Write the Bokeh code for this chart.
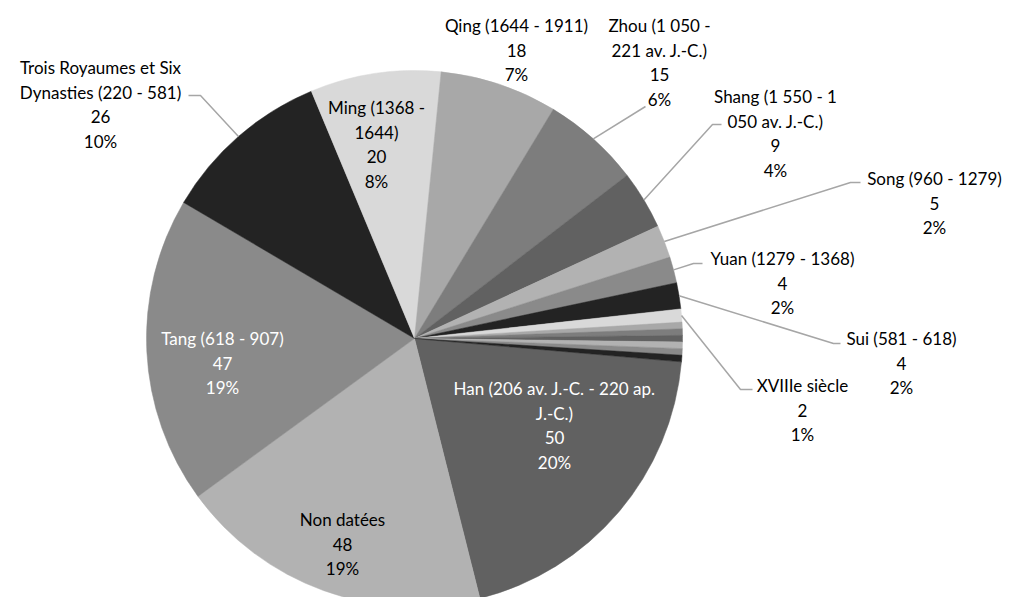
import math
from bokeh.plotting import figure
from bokeh.models import Range1d, ColumnDataSource
from bokeh.embed import file_html
from bokeh.resources import INLINE
from bokeh.core.properties import value

# ---------------- data ----------------
categories = [
    "Han (206 av. J.-C. - 220 ap.\nJ.-C.)",
    "Non datées",
    "Tang (618 - 907)",
    "Trois Royaumes et Six\nDynasties (220 - 581)",
    "Ming (1368 -\n1644)",
    "Qing (1644 - 1911)",
    "Zhou (1 050 -\n221 av. J.-C.)",
    "Shang (1 550 - 1\n050 av. J.-C.)",
    "Song (960 - 1279)",
    "Yuan (1279 - 1368)",
    "Sui (581 - 618)",
    "XVIIIe siècle",
    "Autre 1", "Autre 2", "Autre 3", "Autre 4", "Autre 5", "Autre 6",
]
counts = [50, 48, 47, 26, 20, 18, 15, 9, 5, 4, 4, 2, 1, 1, 1, 1, 1, 1]

# ---------------- style / layout ----------------
shades = ["#616161", "#b2b2b2", "#8a8a8a", "#232323", "#d9d9d9", "#a8a8a8", "#7d7d7d"]
CX, CY, R = 414, 338, 268          # pie centre / radius (page pixels)
START = 95                          # first slice angle, clockwise from 12 o'clock
FONT = "Lato"
FS = "17px"
LINE_H = 24.5
LEADER = "#a6a6a6"

# label: index -> (centre x, first line y, text colour, leader path points after slice edge)
label_layout = {
    0: (554, 388, "white", None),
    1: (342, 519, "black", None),
    2: (222, 338, "white", None),
    3: (100, 67, "black", [(200, 95), (188, 95)]),
    4: (376, 107, "black", None),
    5: (516, 25, "black", None),
    6: (659, 25, "black", [(645, 106)]),
    7: (775, 96, "black", [(712, 124), (721, 124)]),
    8: (934, 178, "black", [(850, 182), (860, 182)]),
    9: (782, 258, "black", [(693, 263), (702, 263)]),
    10: (901, 338, "black", [(833, 343), (840, 343)]),
    11: (802, 385, "black", [(740, 389), (752, 389)]),
}

W, H = 1012, 597
p = figure(width=W, height=H, x_range=Range1d(0, W), y_range=Range1d(-H, 0),
           output_backend="svg", toolbar_location=None, x_axis_type=None, y_axis_type=None,
           min_border=0, outline_line_color=None)
p.background_fill_color = "white"
p.border_fill_color = "white"

total = sum(counts)
starts, ends, colors, mids = [], [], [], []
cum = 0
for i, c in enumerate(counts):
    a1 = START + cum / total * 360
    a2 = START + (cum + c) / total * 360
    starts.append(math.radians(90 - a1))
    ends.append(math.radians(90 - a2))
    mids.append((a1 + a2) / 2)
    colors.append(shades[i % len(shades)])
    cum += c

src = ColumnDataSource(dict(start=starts, end=ends, color=colors))
p.wedge(x=CX, y=-CY, radius=R, start_angle="start", end_angle="end", direction="clock",
        fill_color="color", line_color="color", line_width=0.5, source=src)

# leader lines
for i, (lx, ly, col, path) in label_layout.items():
    if not path:
        continue
    a = math.radians(mids[i])
    x0 = CX + R * math.sin(a)
    y0 = CY - R * math.cos(a)
    xs = [x0] + [pt[0] for pt in path]
    ys = [-y0] + [-pt[1] for pt in path]
    p.line(xs, ys, line_color=LEADER, line_width=1.5)

# labels
tx, ty, tt, tc = [], [], [], []
for i, (lx, ly, col, path) in label_layout.items():
    pct = round(counts[i] / total * 100)
    lines = categories[i].split("\n") + [str(counts[i]), f"{pct}%"]
    for k, s in enumerate(lines):
        tx.append(lx)
        ty.append(-(ly + k * LINE_H))
        tt.append(s)
        tc.append(col)
tsrc = ColumnDataSource(dict(x=tx, y=ty, text=tt, color=tc))
p.text(x="x", y="y", text="text", text_color="color", source=tsrc,
       text_font=value(FONT), text_font_size=FS, text_align="center", text_baseline="middle")

open("out.html", "w").write(file_html(p, INLINE))
